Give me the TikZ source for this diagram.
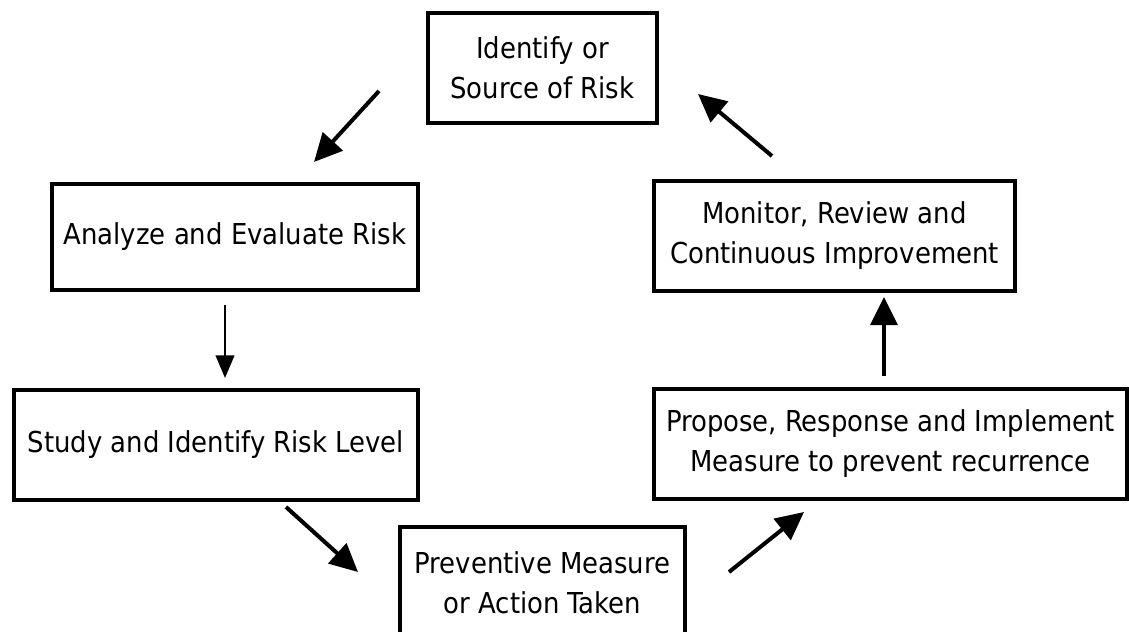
\documentclass[tikz,border=0pt]{standalone}
\usepackage{fontspec}
\setmainfont{DejaVu Sans Condensed}
\usetikzlibrary{arrows.meta}
\tikzset{
  stepbox/.style={draw, line width=3pt, align=center, inner sep=0pt,
    font=\fontsize{21.6}{30}\selectfont},
  flow/.style={line width=3pt, -{Triangle[length=21pt,width=20pt]}},
  thinflow/.style={line width=1.6pt, -{Triangle[length=17pt,width=14pt]}}
}
\begin{document}
\begin{tikzpicture}[x=0.75pt, y=-0.75pt]
  \useasboundingbox (0,0) rectangle (1129,632);
  % Define nodes
  \node[stepbox, minimum width=171.75pt, minimum height=82.5pt] (ident) at (542.5,68) {Identify or\\Source of Risk};
  \node[stepbox, minimum width=274.5pt, minimum height=79.5pt] (analyze) at (235,237) {Analyze and Evaluate Risk};
  \node[stepbox, minimum width=303pt, minimum height=82.5pt] (study) at (216,445) {Study and Identify Risk Level};
  \node[stepbox, minimum width=213.75pt, minimum height=83.25pt] (prevent) at (542.5,582.5) {Preventive Measure\\or Action Taken};
  \node[stepbox, minimum width=354.75pt, minimum height=82.5pt] (propose) at (890.5,444) {Propose, Response and Implement\\Measure to prevent recurrence};
  \node[stepbox, minimum width=270.75pt, minimum height=82.5pt] (monitor) at (834.5,236) {Monitor, Review and\\Continuous Improvement};
  % Define arrow ends
  \coordinate (identOut) at (379,91);
  \coordinate (analyzeIn) at (314,162);
  \coordinate (analyzeOut) at (225,305);
  \coordinate (studyIn) at (225,378);
  \coordinate (studyOut) at (286,507);
  \coordinate (preventIn) at (358,572);
  \coordinate (preventOut) at (729,572);
  \coordinate (proposeIn) at (804,512);
  \coordinate (proposeOut) at (884,376);
  \coordinate (monitorIn) at (884,297);
  \coordinate (monitorOut) at (772,156);
  \coordinate (identIn) at (698,94);
  % Define edges
  \draw[flow] (identOut) -- (analyzeIn);
  \draw[thinflow] (analyzeOut) -- (studyIn);
  \draw[flow] (studyOut) -- (preventIn);
  \draw[flow] (preventOut) -- (proposeIn);
  \draw[flow] (proposeOut) -- (monitorIn);
  \draw[flow] (monitorOut) -- (identIn);
\end{tikzpicture}
\end{document}
